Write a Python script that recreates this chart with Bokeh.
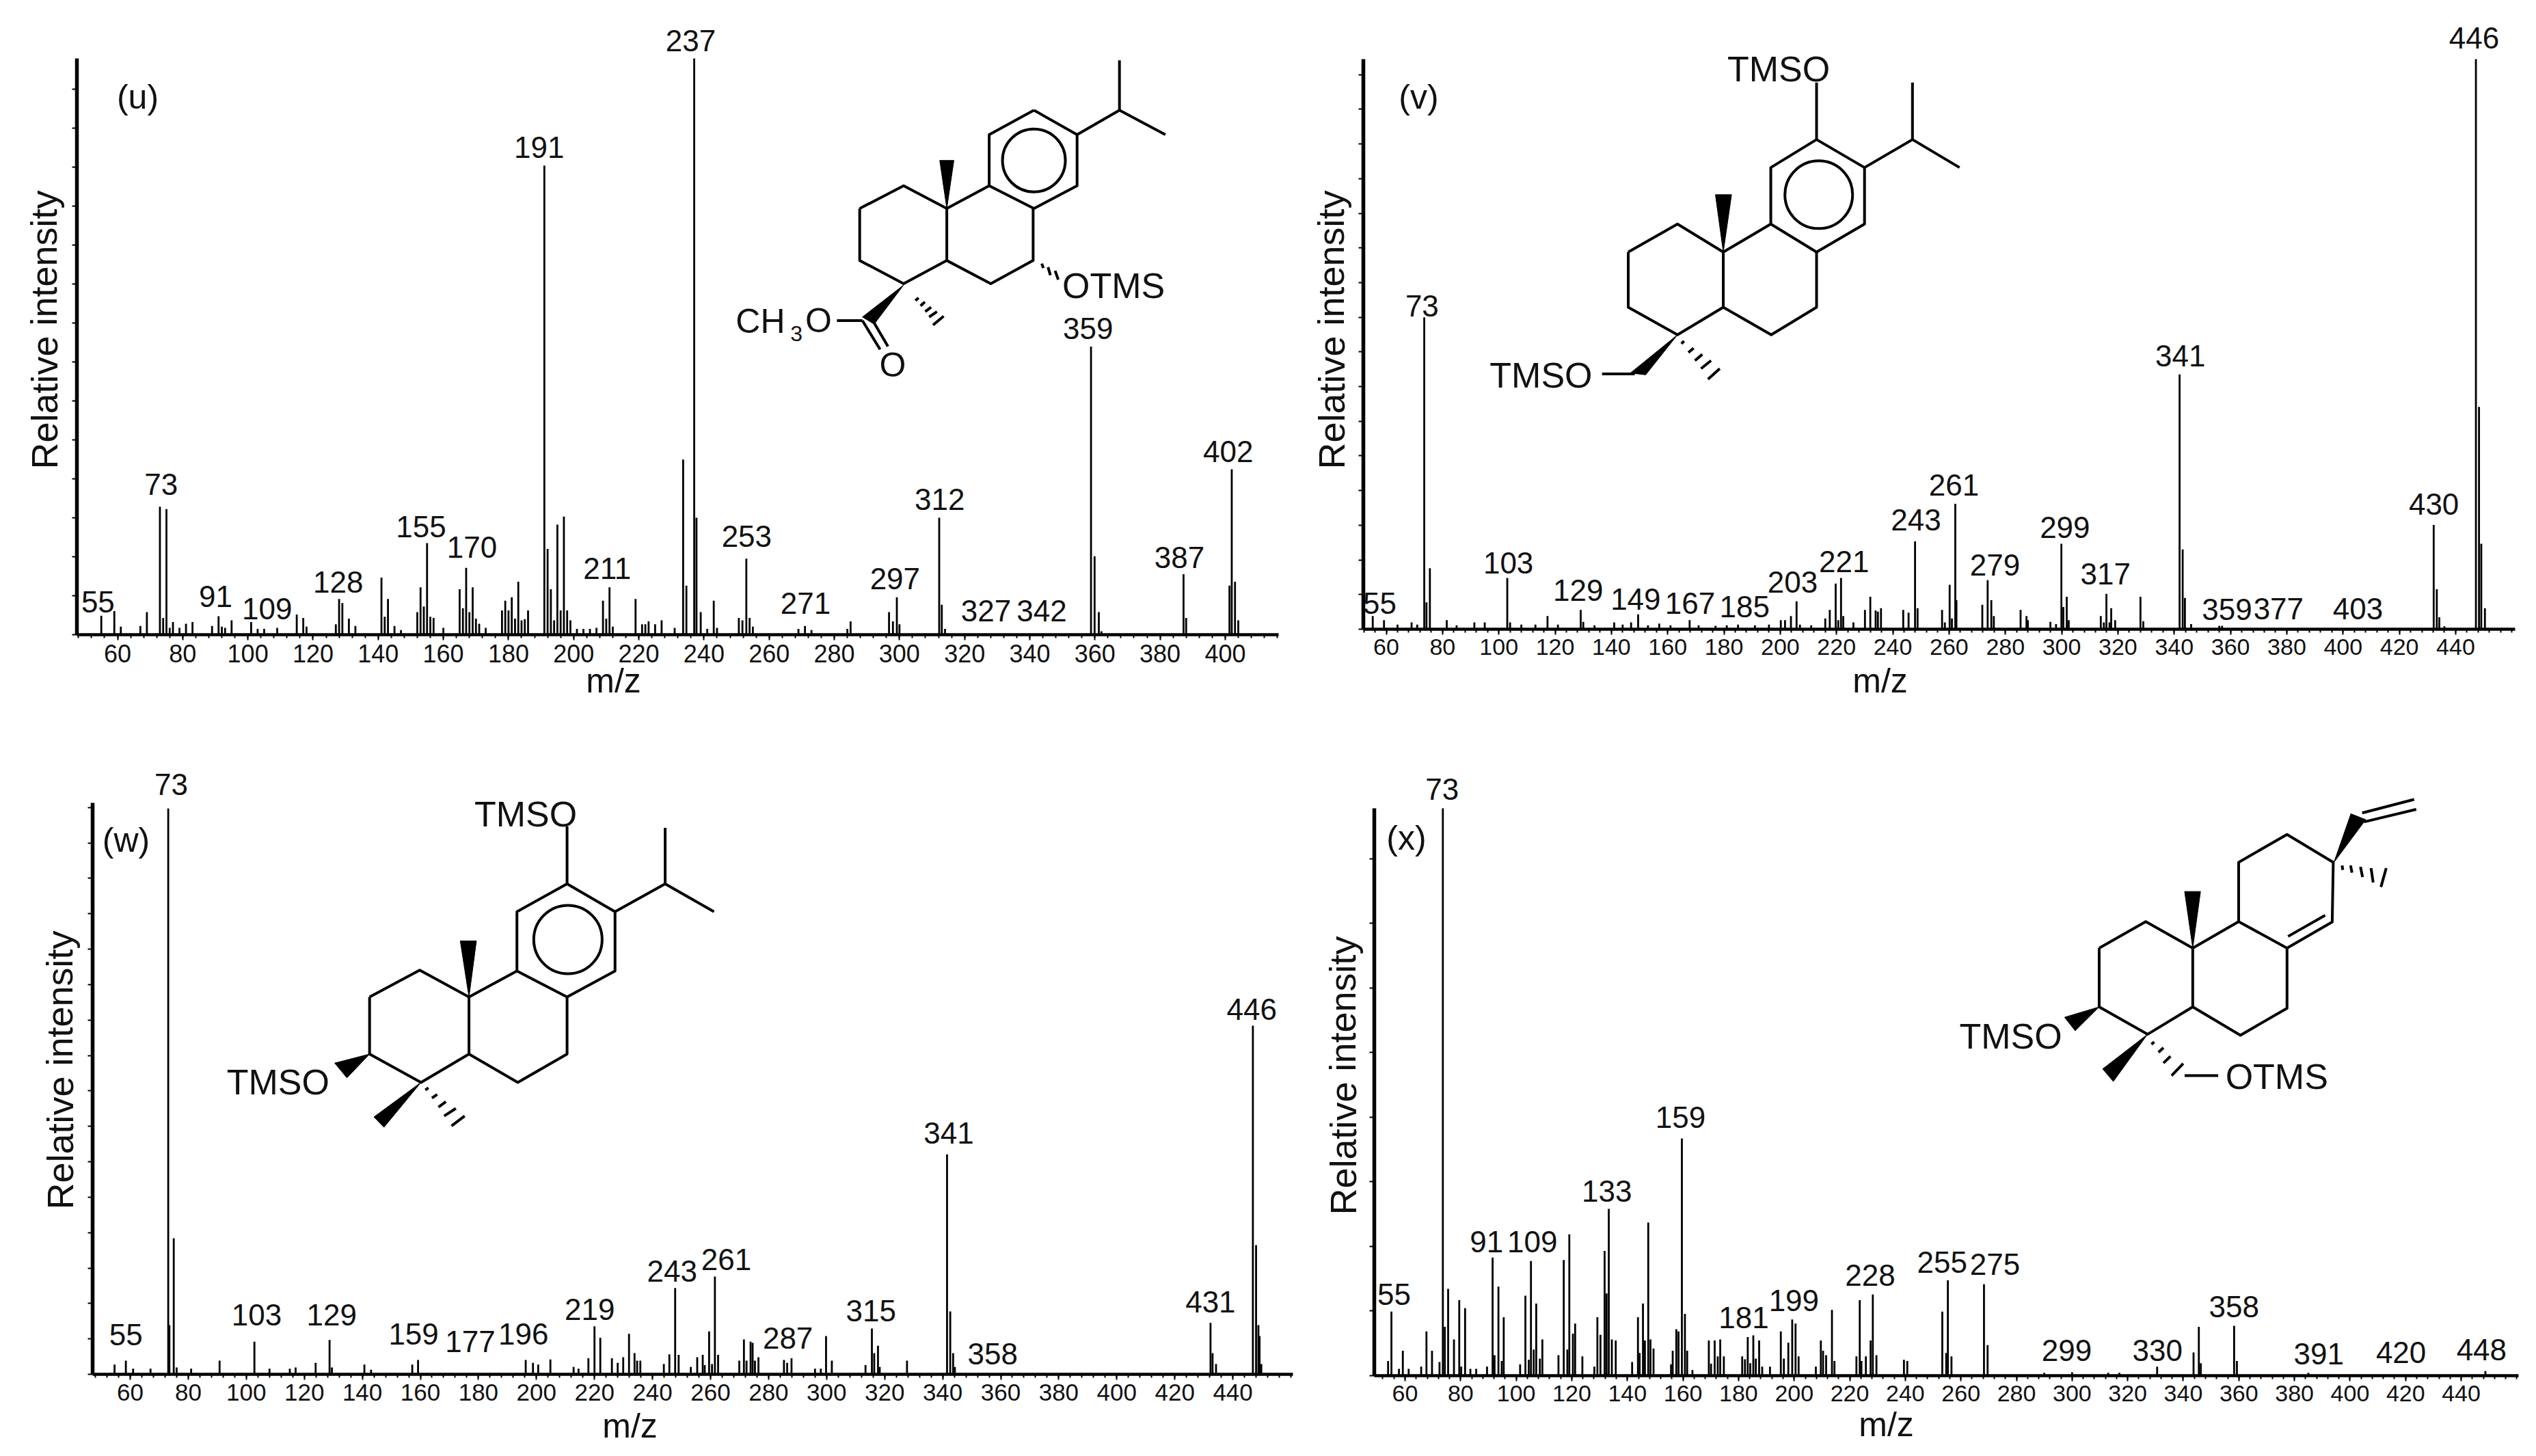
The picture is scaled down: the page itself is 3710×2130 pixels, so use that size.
from bokeh.plotting import figure
from bokeh.layouts import column, row
from bokeh.models import Label, Range1d, FixedTicker
from bokeh.embed import file_html
from bokeh.resources import INLINE

FONT = "Liberation Sans"

# ---------- spectrum (u)
u_mz = [55,59,61,67,69,73,74,75,76,77,79,81,83,89,91,92,93,95,101,103,105,109,115,117,118,127,128,129,131,133,141,142,143,145,147,
        152,153,154,155,156,157,160,165,166,167,168,169,170,171,173,178,179,180,181,182,183,184,185,186,191,192,193,194,195,196,197,198,199,
        201,203,205,207,209,210,211,212,219,221,222,223,225,227,231,233.6,234.6,237,237.7,239,241,243,244,250.7,251.8,253,254,255,269,271,273,284,285,
        296.8,298,299.2,300,312.2,313,314,358.8,359.9,361.2,362,387.2,388,401.3,402,403,404]
u_int = [3.3,4.1,1.4,1.5,3.9,22.2,2.9,21.8,1.2,2.2,1.2,1.9,2.2,1.5,3.2,1.4,1.2,2.5,2.2,1,1,1.2,3.5,2.9,1.4,1.8,6.2,5.5,2.8,1.5,9.9,3.1,6.2,1.5,0.8,
         3.9,8.2,4.9,15.9,3.1,2.9,1.2,7.9,4.6,11.6,3.9,8.2,2.8,1.9,1.2,4.2,5.9,4.2,6.5,2.8,9.2,2.5,2.7,4.2,81.4,14.9,7.9,2.5,19.1,4.2,20.5,4.2,2.5,
         1,1,1,1.2,5.9,2.8,8.2,1.4,6.2,1.8,1.8,2.3,1.8,2.5,1.2,30.4,8.5,100,20.3,3.9,1,5.9,1.2,2.9,2.5,13.2,2.9,1.4,1,1.5,0.8,1,2.3,
         3.9,2.3,6.5,1.8,20.3,5.2,1,50,13.6,3.9,0.6,10.5,2.9,8.5,28.7,9.2,2.5]
u_labels = ["55","73","91","109","128","155","170","191","211"]
u_label_zoom = [(224,1352),(369,1088),(494,1340),(612,1368),(775,1308),(965,1183),(1082,1230),(1236,330),(1392,1278)]
u_labels2 = ["253","271","297","312","327","342","359","387","402"]
u_label2_zoom = [(160,1205),(310,1355),(538,1300),(652,1122),(770,1372),(912,1372),(1030,738),(1263,1252),(1387,1015)]

# ---------- spectrum (v)
v_mz = [55.2,59.2,64,69,71,73.5,74.3,75.5,81.5,85,91.3,95,103,104,108,113,117.3,121,129.1,130,134,141,144,147,149.5,153,157,161,167.8,171,177,181,185,191,196,
        200.2,201.7,203.8,205.8,207,211,216,217.6,219.7,220.6,221.6,222.4,226,230.1,232,233.9,234.7,235.8,243.7,245.6,247.9,248.8,257.5,258.5,260.2,261,262.2,262.6,
        271.8,273.7,275,275.9,285.4,287.5,288,296,298,299.9,300.6,301.8,302.5,313.9,315,315.9,317,317.6,319,328,329,341.9,343,343.8,346,356,357,432.2,433.3,434.2,436,447.2,448.3,449.1,450.4]
v_int = [2.3,1.6,0.8,1.2,0.8,54.7,4.7,10.7,1.6,0.7,1.2,1.2,9,1.2,0.8,0.8,2.3,0.8,3.4,1.3,0.7,1.2,0.8,1.2,2.6,0.7,1,0.7,1.6,0.7,0.6,0.7,0.8,0.7,0.8,
         1.6,1.6,2.3,4.9,0.8,0.7,1.9,3.4,8,1.6,9,2.3,1.2,3.4,5.7,3.3,3.1,3.7,3.4,2.9,15.4,3.7,3.4,1.2,7.8,1.9,22,5.1,
         4.3,8.6,5.1,2.3,3.4,2.3,1.6,1.3,0.9,15,3.9,5.7,1.6,2.3,1.2,6.2,1.2,3.7,1.6,5.7,1.4,44.7,14,5.5,0.9,0.6,0.6,18.3,7,2.1,0.5,100,39,15,3.7]
v_labels = ["55","73","103","129","149","167","185","203","221","243","261"]
v_label_zoom = [(185,1355),(282,687),(480,1265),(640,1327),(772,1347),(897,1355),(1022,1363),(1132,1308),(1250,1262),(1415,1168),(1502,1090)]
v_labels2 = ["279","299","317","341","359","377","403","430","446"]
v_label2_zoom = [(35,1270),(233,1185),(348,1290),(560,800),(692,1370),(838,1368),(1063,1368),(1278,1133),(1392,85)]

# ---------- spectrum (w)
w_mz = [54.6,58.5,61,67,73.1,73.5,75,76,81,90.8,102.8,108,115,117,123.9,128.7,129.5,140.7,143,157.2,159.2,196.3,198.8,200.6,204.8,212.8,214.5,217.9,220,222,226,228,229.9,231.9,233.8,234.7,235.8,
        243.9,245.8,247.8,249,253.2,255.4,257.3,258,259.5,260.5,261.5,262.6,269.9,271.5,272.4,273.8,274.5,275.3,276.5,285.3,286.4,287.9,296,298,299.8,301.8,313.4,315.6,316.4,317.7,318.3,327.7,341.5,342.6,343.6,344.2,432.3,433,434.2,446.9,448,448.8,449.2,449.8]
w_int = [1.7,2.4,1,1,99,8.6,23.8,1.2,1,2.4,5.7,1,1,1.2,2,6,1.2,1.7,0.8,1.7,2.5,2.5,2,1.7,2.6,1.3,1,2.8,8.4,6.4,2.8,2,3,7.1,3.7,2.4,2.4,
         1.8,3.5,15.1,3.4,1.3,3,3.4,1.6,7.5,1.8,17.1,3.4,2.4,6.1,2.4,5.7,5.5,2.4,3,2.5,2,2.8,1,1,6.7,2.4,1.6,8,3.7,5,1.3,2.4,38.5,11,3.7,1.3,9,3.7,1.8,61,22.6,8.6,6.7,1.8]
w_labels = ["55","73","103","129","159","177","196","219"]
w_label_zoom = [(288,1296),(392,72),(588,1252),(760,1252),(948,1295),(1078,1312),(1200,1295),(1352,1240)]
w_labels2 = ["243","261","287","315","341","358","431","446"]
w_label2_zoom = [(-30,1155),(108,1130),(265,1305),(477,1243),(675,848),(787,1340),(1342,1223),(1447,572)]

# ---------- spectrum (x)
x_mz = [53.9,55.1,57.8,59.2,61.3,65.8,67.7,69.7,72.4,73.6,74.3,75.5,77.6,79.5,80.2,81.6,83.5,85.6,89.5,91.5,92.2,93.6,94.8,95.5,101.4,103.3,104.5,105.3,106.3,107.2,108.5,109.4,115.2,117.1,118.4,119.1,120.4,121.2,123.8,
        128.1,129.2,130.3,131.8,132.5,133.3,134.4,135.8,141.7,143.8,144.4,145.6,146.3,147.5,148.3,149.4,155.7,156.3,157.6,158.4,159.6,160.7,161.5,163.4,169.3,170.1,171.4,172.5,173.4,174.7,
        181.3,182.3,183.3,184.2,185.3,186.2,187.4,188.5,191.3,195.2,196.3,197.9,199.3,200.5,201.6,207.8,209.6,210.4,211.5,213.6,214.5,222.4,223.6,224.2,225.8,227.5,228.3,229.6,239.5,240.7,253.3,254.7,255.3,256.6,
        268.3,269.6,290,300,313,317,330.6,343.7,345.6,346.3,358.3,359.3,385,448.7]
x_int = [2.6,11.3,1.2,4.4,1.2,1.6,7.8,4.4,2.4,100,8.6,15.3,6.4,13.3,1.6,11.9,1.2,1.2,1.6,20.8,3.6,15.7,2.6,10.3,2,14.1,2.8,20.2,4.6,12.7,3,6.4,3.6,20.4,4.6,24.9,7.4,9.2,3.4,
         1.6,10.3,7.2,22,14.5,29.4,6.4,6.2,2.4,10.3,4,12.7,6.2,27,6.4,4.8,2,4.4,8.2,7.8,41.8,10.9,4.4,1,6.2,2.1,6.2,3.4,6.4,3.4,
         3.4,2.9,6.8,2.2,7.1,3,6.2,1.6,1.6,7.8,3,5.8,9.9,9.2,3.4,1.6,6.2,4.4,3.6,11.6,2.6,3.4,13.3,2.6,3.4,6.2,14.3,3.6,2.8,2.6,11.3,4,16.8,3.4,
         16.1,5.4,0.5,0.6,0.5,0.5,1.6,4.1,8.6,2.2,8.8,2.6,0.5,0.8]
x_labels = ["55","73","91","109","133","159","181","199","228","255"]
x_label_zoom = [(218,1207),(328,82),(430,1090),(535,1090),(706,977),(875,812),(1020,1258),(1135,1220),(1310,1165),(1475,1135)]
x_labels2 = ["275","299","330","358","391","420","448"]
x_label2_zoom = [(35,1140),(238,1332),(495,1332),(712,1235),(952,1340),(1185,1337),(1413,1330)]

tick_values = list(range(60, 460, 20))
minor_values = list(range(48, 464, 4))
Y_TITLE = "Relative intensity"
X_TITLE = "m/z"


class Panel:
    def __init__(self, fig_l, fig_t, fig_w, fig_h, l, r, t, b, px60, k, ystep, tick_size):
        self.l, self.r, self.t, self.b, self.px60, self.k = l, r, t, b, px60, k
        x_rng = Range1d(self.dx(l), self.dx(r))
        # the frame reaches the figure's top, so that texts above the axis stay visible;
        # the axis itself stops at 100 through its bounds
        top = fig_t + 2
        self.p = p = figure(width=fig_w, height=fig_h, x_range=x_rng, y_range=Range1d(0, self.dy(top)),
                            output_backend="svg", toolbar_location=None,
                            min_border_left=l - fig_l, min_border_right=fig_l + fig_w - r,
                            min_border_top=top - fig_t, min_border_bottom=fig_t + fig_h - b)
        p.grid.visible = False
        p.outline_line_color = None
        p.background_fill_color = "white"
        ax = p.xaxis[0]
        ax.ticker = FixedTicker(ticks=tick_values, minor_ticks=minor_values)
        ax.axis_line_width = 4.5
        ax.axis_line_color = "black"
        ax.major_tick_line_width = 2
        ax.major_tick_in = 0
        ax.major_tick_out = 8
        ax.minor_tick_line_width = 2
        ax.minor_tick_in = 0
        ax.minor_tick_out = 5
        ax.major_label_text_font = FONT
        ax.major_label_text_font_size = f"{tick_size}px"
        ax.major_label_text_color = "#111111"
        ax.major_label_standoff = 6
        ay = p.yaxis[0]
        ay.bounds = (0, 100)
        yt = [ystep * i for i in range(0, 30) if ystep * i < 100]
        ay.ticker = FixedTicker(ticks=yt, minor_ticks=[])
        ay.major_label_overrides = {v: "" for v in yt}
        ay.major_label_text_font_size = "0px"
        ay.axis_line_width = 5.5
        ay.major_tick_line_width = 2
        ay.major_tick_in = 0
        ay.major_tick_out = 7
        ay.minor_tick_line_color = None

    def dx(self, px):
        return 60 + (px - self.px60) / self.k

    def dy(self, py):
        return (self.b - py) / (self.b - self.t) * 100

    def peaks(self, mz, inten):
        self.p.segment(x0=mz, y0=[0] * len(mz), x1=mz, y1=inten, line_color="black", line_width=2.8)

    def text(self, s, px, py, size, color="#111111"):
        self.p.add_layout(Label(x=self.dx(px), y=self.dy(py), text=s, text_font=FONT,
                                text_font_size=f"{size}px", text_align="center", text_baseline="middle",
                                text_color=color))

    def ytitle(self, px, py):
        self.p.add_layout(Label(x=self.dx(px), y=self.dy(py), text=Y_TITLE, text_font=FONT, angle=1.5708,
                                text_font_size="54px", text_align="center", text_baseline="middle",
                                text_color="#111111"), "left")

    def xtitle(self, px, py):
        self.p.add_layout(Label(x=self.dx(px), y=self.dy(py), text=X_TITLE, text_font=FONT,
                                text_font_size="50px", text_align="center", text_baseline="middle",
                                text_color="#111111"), "below")

    def struct(self, ox, oy, kx, ky, paths=(), wedges=(), ring=None):
        X = lambda v: self.dx(ox + v / kx)
        Y = lambda v: self.dy(oy + v / ky)
        if paths:
            self.p.multi_line(xs=[[X(a) for a, _ in q] for q in paths],
                              ys=[[Y(b) for _, b in q] for q in paths],
                              line_color="black", line_width=4, line_join="round")
        if wedges:
            self.p.patches(xs=[[X(a) for a, _ in q] for q in wedges],
                           ys=[[Y(b) for _, b in q] for q in wedges],
                           fill_color="black", line_color="black", line_width=1)
        if ring:
            self.p.scatter(x=[X(ring[0])], y=[Y(ring[1])], size=ring[2], marker="circle",
                           fill_color=None, line_color="black", line_width=4)


# frames: left/right/top/bottom on the page
U = Panel(0, 0, 1900, 1050, 112, 1870, 85, 928, 171.5, 4.766, 6.76, 36)
V = Panel(1900, 0, 1800, 1050, 1994, 3679, 86, 920, 2027.5, 4.117, 6.08, 34)
W = Panel(0, 1050, 1900, 1070, 135, 1891, 1174, 2010, 190, 4.245, 6.2, 35)
XP = Panel(1900, 1050, 1800, 1070, 2010, 3684, 1182, 2012, 2055, 4.066, 11.39, 34)

U.peaks(u_mz, u_int)
V.peaks(v_mz, v_int)
W.peaks(w_mz, w_int)
XP.peaks(x_mz, x_int)

LS = 44
for s, (a, b) in zip(u_labels, u_label_zoom):
    U.text(s, a / 1.568, b / 1.537, LS)
for s, (a, b) in zip(u_labels2, u_label2_zoom):
    U.text(s, 1000 + a / 1.742, b / 1.537, LS)
U.text("237", 1010, 59, LS)
for s, (a, b) in zip(v_labels, v_label_zoom):
    V.text(s, 1900 + a / 1.568, b / 1.537, LS)
for s, (a, b) in zip(v_labels2, v_label2_zoom):
    V.text(s, 2900 + a / 1.936, b / 1.537, LS)
for s, (a, b) in zip(w_labels, w_label_zoom):
    W.text(s, a / 1.568, 1100 + b / 1.522, LS)
for s, (a, b) in zip(w_labels2, w_label2_zoom):
    W.text(s, 1000 + a / 1.742, 1100 + b / 1.522, LS)
for s, (a, b) in zip(x_labels, x_label_zoom):
    XP.text(s, 1900 + a / 1.568, 1100 + b / 1.522, LS)
for s, (a, b) in zip(x_labels2, x_label2_zoom):
    XP.text(s, 2900 + a / 1.936, 1100 + b / 1.522, LS)

U.ytitle(64, 482); U.xtitle(897, 995); U.text("(u)", 201, 141, 50)
V.ytitle(1947, 482); V.xtitle(2750, 995); V.text("(v)", 2075, 141, 50)
W.ytitle(87, 1565); W.xtitle(921, 2085); W.text("(w)", 184, 1228, 50)
XP.ytitle(1964, 1573); XP.xtitle(2759, 2083); XP.text("(x)", 2057, 1225, 50)

# ---------- structures (u)
U.struct(1000, 0, 1.742, 1.537,
         paths=[[(892,247),(1002,302),(1002,417),(892,468),(778,417),(778,302),(892,247)],
                [(448,468),(560,417),(670,468),(670,585),(560,637),(448,585),(448,468)],
                [(670,468),(778,417)], [(670,585),(782,637),(890,585),(890,468)],
                [(1002,302),(1110,247),(1227,302)], [(1110,247),(1110,135)],
                [(390,720),(455,720)], [(455,720),(500,785)], [(478,715),(520,778)],
                [(590,675),(598,669)], [(603,687),(614,678)], [(615,700),(630,690)], [(625,712),(645,700)], [(635,730),(662,710)],
                [(912,592),(916,602)], [(928,600),(934,618)], [(946,608),(954,628)]],
         wedges=[[(670,468),(652,360),(688,360)], [(560,640),(455,712),(485,728)]],
         ring=(892, 360, 92))
U.text("OTMS", 1000 + 1095 / 1.742, 642 / 1.537, 52)
U.text("CH", 1000 + 195 / 1.742, 722 / 1.537, 50)
U.text("3", 1000 + 287 / 1.742, 750 / 1.537, 32)
U.text("O", 1000 + 343 / 1.742, 720 / 1.537, 50)
U.text("O", 1000 + 532 / 1.742, 820 / 1.537, 50)

# ---------- structures (v)
V.struct(1900, 0, 1.568, 1.537,
         paths=[[(1187,313),(1297,376),(1297,503),(1187,566),(1082,503),(1082,376),(1187,313)],
                [(1187,313),(1187,185)],
                [(1297,376),(1407,313),(1515,376)], [(1407,313),(1407,185)],
                [(755,566),(868,503),(973,566),(973,690),(868,752),(755,690),(755,566)],
                [(973,566),(1082,503)], [(973,690),(1083,752),(1187,690),(1187,566)],
                [(695,840),(770,840)],
                [(877,772),(883,766)], [(893,792),(905,782)], [(908,810),(925,796)], [(922,828),(945,810)], [(938,852),(965,828)]],
         wedges=[[(973,566),(955,437),(992,437)], [(868,752),(760,838),(795,842)]],
         ring=(1192, 437, 99))
V.text("TMSO", 1900 + 1100 / 1.568, 155 / 1.537, 52)
V.text("TMSO", 1900 + 555 / 1.568, 843 / 1.537, 52)

# ---------- structures (w)
W.struct(0, 1100, 1.568, 1.522,
         paths=[[(1300,293),(1410,355),(1410,487),(1300,545),(1185,487),(1185,355),(1300,293)],
                [(1300,293),(1300,165)],
                [(1410,355),(1525,293),(1637,355)], [(1525,293),(1525,168)],
                [(847,545),(962,485),(1075,545),(1075,672),(965,735),(847,672),(847,545)],
                [(1075,545),(1185,487)], [(1075,672),(1187,735),(1300,672),(1300,545)],
                [(975,752),(982,747)], [(990,770),(1002,762)], [(1005,790),(1022,778)], [(1018,810),(1045,793)], [(1035,832),(1065,810)]],
         wedges=[[(1075,545),(1055,420),(1092,420)], [(847,672),(767,692),(795,725)], [(965,735),(857,812),(880,835)]],
         ring=(1302, 417, 100))
W.text("TMSO", 1205 / 1.568, 1100 + 137 / 1.522, 52)
W.text("TMSO", 637 / 1.568, 1100 + 735 / 1.522, 52)

# ---------- structures (x)
XP.struct(2900, 1100, 1.936, 1.522,
          paths=[[(330,436),(462,377),(595,436),(595,567),(467,628),(330,567),(330,436)],
                 [(595,436),(725,377),(862,436),(862,570),(730,630),(595,567)],
                 [(725,377),(725,245),(862,183),(993,245),(990,378),(862,436)],
                 [(865,410),(970,363)],
                 [(1018,252),(1020,262)], [(1042,252),(1046,268)], [(1070,255),(1076,278)], [(1100,258),(1106,290)], [(1143,258),(1128,300)],
                 [(478,650),(486,645)], [(498,668),(512,658)], [(512,692),(532,677)], [(535,720),(568,693)],
                 [(572,720),(667,720)], [(1075,135),(1222,105)], [(1080,155),(1228,127)]],
          wedges=[[(595,436),(572,310),(617,310)], [(995,245),(1043,137),(1085,150)],
                  [(330,567),(232,590),(262,620)], [(467,628),(340,705),(370,733)]])
XP.text("TMSO", 2941, 1515, 52)
XP.text("OTMS", 2900 + 833 / 1.936, 1100 + 722 / 1.522, 52)

page = column(row(column(U.p), column(V.p)), row(column(W.p), column(XP.p)))
open("out.html", "w").write(file_html(page, INLINE))
